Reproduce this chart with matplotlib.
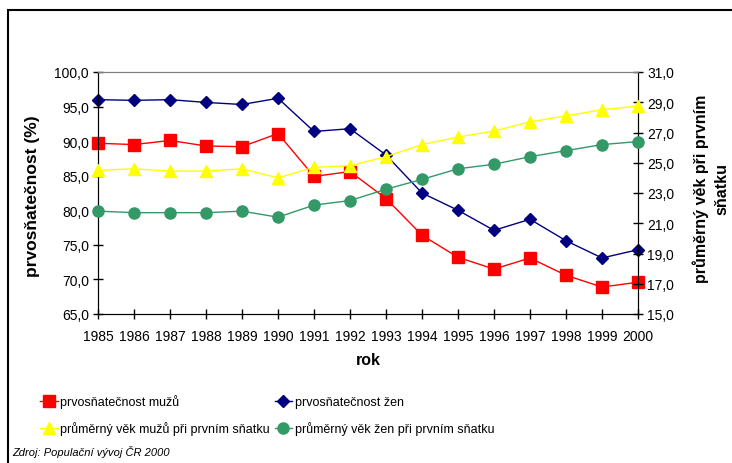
import numpy as np
import matplotlib
matplotlib.use('Agg')
import matplotlib.pyplot as plt
from matplotlib.patches import Rectangle
from matplotlib.ticker import FuncFormatter

plt.rcParams['font.family'] = ['Liberation Sans', 'DejaVu Sans']
plt.rcParams['font.size'] = 10

# data
years = list(range(1985, 2001))
prvo_muzi = [89.7, 89.5, 90.1, 89.3, 89.2, 91.1, 84.9, 85.6, 81.7, 76.4, 73.2, 71.5, 73.1, 70.6, 68.9, 69.6]
prvo_zeny = [96.0, 95.9, 96.0, 95.6, 95.3, 96.2, 91.4, 91.8, 88.0, 82.5, 80.0, 77.1, 78.7, 75.6, 73.1, 74.3]
vek_muzi = [24.5, 24.6, 24.45, 24.45, 24.6, 24.0, 24.7, 24.8, 25.4, 26.2, 26.7, 27.1, 27.7, 28.1, 28.5, 28.75]
vek_zeny = [21.8, 21.7, 21.7, 21.7, 21.8, 21.4, 22.2, 22.5, 23.25, 23.9, 24.6, 24.9, 25.4, 25.8, 26.2, 26.4]

left_ticks = [65, 70, 75, 80, 85, 90, 95, 100]
right_ticks = [15, 17, 19, 21, 23, 25, 27, 29, 31]

W, H = 732, 464
fig = plt.figure(figsize=(W / 100, H / 100), dpi=100)
ax = fig.add_axes([98 / W, 1 - 315 / H, 540 / W, 242 / H])
ax2 = ax.twinx()

comma = FuncFormatter(lambda v, p: ('%.1f' % v).replace('.', ','))

l1, = ax.plot(years, prvo_muzi, color='#FF0000', lw=1, marker='s', ms=8,
              mec='#FF0000', clip_on=False, zorder=3)
l2, = ax.plot(years, prvo_zeny, color='#000080', lw=1, marker='D', ms=6.5,
              mec='#000080', clip_on=False, zorder=3)
l3, = ax2.plot(years, vek_muzi, color='#FFFF00', lw=1, marker='^', ms=9,
               mec='#FFFF00', clip_on=False, zorder=3)
l4, = ax2.plot(years, vek_zeny, color='#339966', lw=1, marker='o', ms=8,
               mec='#339966', clip_on=False, zorder=3)

ax.set_xlim(1985, 2000)
ax.set_ylim(65, 100)
ax2.set_ylim(15, 31)
ax.set_xticks(years)
ax.set_yticks(left_ticks)
ax2.set_yticks(right_ticks)
ax.yaxis.set_major_formatter(comma)
ax2.yaxis.set_major_formatter(comma)

for a in (ax, ax2):
    a.tick_params(direction='inout', length=7, width=1, color='black', labelsize=10)
    for s in a.spines.values():
        s.set_color('black')
    a.spines['top'].set_color('#808080')
ax.tick_params(axis='x', pad=7)
ax.tick_params(axis='y', pad=3)
ax2.tick_params(axis='y', pad=3)

ax.set_xlabel('rok', fontweight='bold', fontsize=11.5, va='top')
ax.xaxis.set_label_coords(0.5, -0.155)
ax.set_ylabel('prvosňatečnost (%)', fontweight='bold', fontsize=12.5)
ax.yaxis.set_label_coords(-0.107, 0.49)
ax2.set_ylabel('průměrný věk při prvním\nsňatku', fontweight='bold', fontsize=11.5,
               linespacing=1.45)
ax2.yaxis.set_label_coords(1.1, 0.52)

fig.legend([l1, l3, l2, l4],
           ['prvosňatečnost mužů', 'průměrný věk mužů při prvním sňatku',
            'prvosňatečnost žen', 'průměrný věk žen při prvním sňatku'],
           ncol=2, loc='center left', bbox_to_anchor=(40 / W, 1 - 416 / H),
           frameon=False, fontsize=9, handlelength=1.4, handletextpad=0.2,
           columnspacing=0.4, labelspacing=1.05, borderpad=0, borderaxespad=0)

fig.text(12 / W, 1 - 452 / H, 'Zdroj: Populační vývoj ČR 2000', fontsize=8,
         style='italic', va='center', ha='left')

fig.patches.append(Rectangle((8 / W, -0.1), 1.2, 1 - 11 / H + 0.1,
                             transform=fig.transFigure, fill=False,
                             lw=1.5, edgecolor='black'))

fig.savefig('out.png', dpi=100)
